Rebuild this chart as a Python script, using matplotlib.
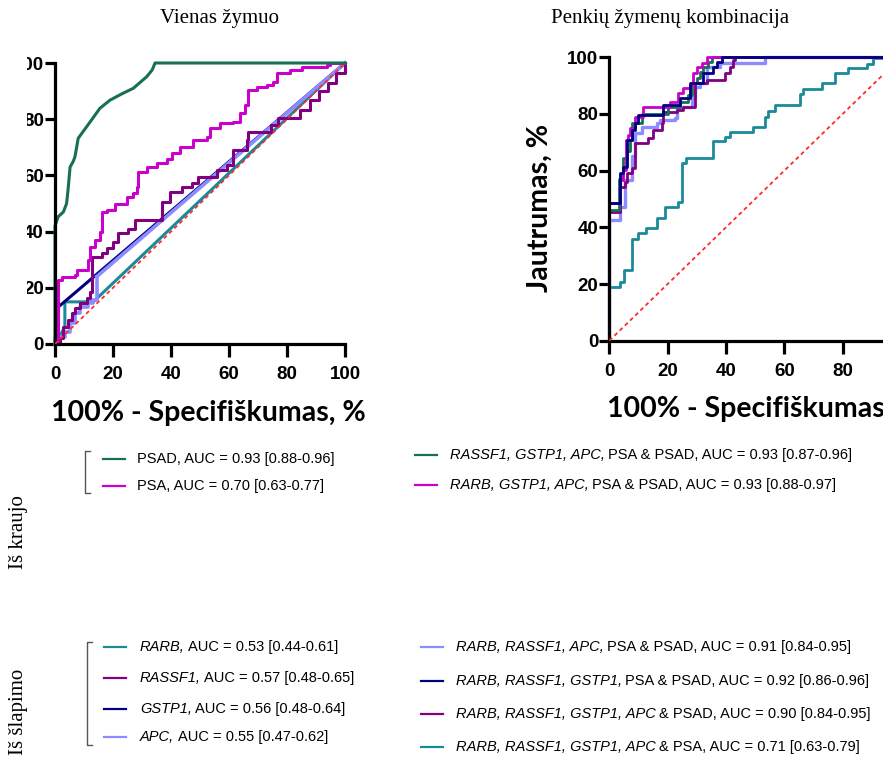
import matplotlib.pyplot as plt
import numpy as np
from matplotlib.lines import Line2D
from matplotlib.patches import Rectangle

W, H = 883, 767

# ---- data ----
ticks = [0, 20, 40, 60, 80, 100]
chance = [0, 100]

# single marker curves (x = 100% - specificity, y = sensitivity)
psad_x = [0, 0, 1.1, 2.9, 4.0, 4.6, 5.2, 6.3, 6.9, 8.0, 10.9, 15.5, 19.0, 23.0, 27.0, 31.6, 33.5, 34.5, 100]
psad_y = [0, 42, 45.3, 47, 50, 56, 63, 65, 66.7, 73.2, 77.3, 83.9, 86.8, 89, 91, 95.1, 97.5, 100, 100]

psa_x = [0, 1.1, 2.3, 6.9, 7.5, 11.5, 12.1, 13.8, 15.5, 16.1, 17.8, 20.7, 24.7, 27.0, 28.2, 28.7, 31.6, 35.0,
         38.5, 40.2, 43.1, 47.7, 52.3, 53.4, 56.9, 61.5, 63.8, 65.5, 66.7, 69.5, 73.0, 75.3, 76.4, 81.0, 85.0,
         93.7, 94.8, 100]
psa_y = [0, 22.8, 24, 24.6, 26.3, 29.9, 34.6, 37, 40, 47, 47.7, 50, 52.4, 53.6, 56, 61.3, 63.1, 64.3,
         66, 67.8, 70.2, 72.6, 73.8, 76.8, 78.5, 79.1, 82.1, 85, 90.4, 91.6, 92.2, 93.4, 96.3, 97.5, 98.7,
         99.3, 99.9, 100]

rassf1_x = [0, 1.7, 2.9, 4.6, 5.7, 6.9, 8.6, 10.9, 12.1, 12.6, 16.1, 17.8, 20.1, 21.8, 25.3, 27.6, 36.8, 39.7,
            43.7, 47.1, 49.4, 55.7, 59.2, 61.5, 66.1, 66.7, 74.5, 77.0, 84.5, 88.0, 91.0, 94.0, 97.0, 100]
rassf1_y = [0, 2, 6.2, 8.5, 10.9, 12.7, 14.5, 16.2, 18.6, 31, 32.3, 34, 36.4, 39.4, 41.1, 44.1, 50.6, 54.2,
            56, 57.2, 59.5, 61.9, 63.7, 69, 72.6, 75.6, 78, 80.3, 83.3, 87, 90, 93, 96.5, 100]

gstp1_x = [0, 0.6, 100]
gstp1_y = [0, 12.7, 100]

apc_x = [0, 1.1, 3.4, 5.2, 6.9, 8.6, 11.5, 13.2, 14.4, 14.4]
apc_y = [0, 2.6, 4.4, 7.4, 10.9, 13.3, 14.5, 15.7, 18, 24]
apc_tail_x = [14.4, 100]
apc_tail_y = [24, 100]

rarb_x = [0, 3.4, 3.4, 13.2, 100]
rarb_y = [0, 6, 15, 15, 100]

# five marker combinations
c1_x = [0, 0, 3.3, 4.2, 4.8, 6.0, 7.1, 7.7, 11.1, 20.2, 24.2, 27.1, 28.2, 30.0, 31.1, 32.2, 33.9, 35.1, 100]
c1_y = [0, 46, 57, 59, 64.3, 67, 70.8, 76.7, 80, 82.6, 84.3, 86.7, 90.8, 92.6, 94.9, 96.7, 98.5, 100, 100]

c2_x = [0, 0, 3.7, 4.8, 5.7, 6.5, 7.1, 8.8, 11.4, 20.8, 23.7, 25.4, 27.7, 28.8, 29.9, 31.7, 33.4, 100]
c2_y = [0, 48.5, 56.7, 60.2, 70.8, 72.6, 74.9, 79, 82.6, 84.3, 87.3, 89, 90.2, 94.4, 96.7, 98.1, 100, 100]

c3_x = [0, 0, 3.7, 5.4, 7.7, 8.8, 11.1, 16.2, 17.4, 22.5, 23.1, 28.2, 29.4, 31.1, 33.4, 37.9, 53.4, 100]
c3_y = [0, 42.6, 47.3, 56.7, 65, 73.2, 75.5, 76.7, 77.9, 78.5, 82.6, 86.1, 89.6, 90.8, 96.7, 98.1, 100, 100]

c4_x = [0, 0, 3.7, 4.8, 5.9, 7.7, 8.8, 9.9, 18.5, 24.2, 27.7, 32.2, 35.7, 36.8, 38.5, 100]
c4_y = [0, 48.5, 59, 61.4, 70.8, 74.4, 76.7, 79.6, 83.2, 85.5, 90.8, 94.4, 96.7, 98.5, 100, 100]

c5_x = [0, 0, 3.7, 5.4, 5.9, 7.7, 8.8, 13.4, 15.1, 17.9, 18.5, 23.1, 25.4, 29.4, 33.4, 39.7, 41.4, 42.5, 43.1, 100]
c5_y = [0, 45.5, 54.4, 56.1, 59.1, 60.8, 69.6, 71.4, 74.4, 76.7, 80.8, 81.4, 82.6, 90.8, 92, 94.4, 96.7, 99, 100, 100]

c6_x = [0, 0, 3.7, 5.0, 7.7, 9.9, 12.6, 16.2, 19.1, 23.7, 25.0, 26.2, 35.4, 39.7, 41.4, 49.4, 53.4, 54.5, 56.8,
        65.4, 66.5, 72.8, 77.4, 81.9, 88.2, 90.5, 95.0, 100]
c6_y = [0, 19.1, 20.8, 24.9, 35.9, 37.9, 39.6, 43.2, 47.3, 49.1, 62.6, 64.4, 70.5, 72, 73.8, 75.5, 79, 81.2, 83.2,
        86.9, 88.7, 90.8, 94.4, 96.4, 97.6, 99.6, 100, 100]

# legend texts: (italic part, plain part)
blood_single = [("", "PSAD, AUC = 0.93 [0.88-0.96]"), ("", "PSA, AUC = 0.70 [0.63-0.77]")]
urine_single = [("RARB,", "AUC = 0.53 [0.44-0.61]"), ("RASSF1,", "AUC = 0.57 [0.48-0.65]"),
                ("GSTP1,", "AUC = 0.56 [0.48-0.64]"), ("APC,", "AUC = 0.55 [0.47-0.62]")]
combo_top = [("RASSF1, GSTP1, APC,", "PSA & PSAD, AUC = 0.93 [0.87-0.96]"),
             ("RARB, GSTP1, APC,", "PSA & PSAD, AUC = 0.93 [0.88-0.97]")]
combo_bottom = [("RARB, RASSF1, APC,", "PSA & PSAD, AUC = 0.91 [0.84-0.95]"),
                ("RARB, RASSF1, GSTP1,", "PSA & PSAD, AUC = 0.92 [0.86-0.96]"),
                ("RARB, RASSF1, GSTP1, APC", "& PSAD, AUC = 0.90 [0.84-0.95]"),
                ("RARB, RASSF1, GSTP1, APC", "& PSA, AUC = 0.71 [0.63-0.79]")]

GREEN = "#17704f"
MAGENTA = "#cc00cc"
PURPLE = "#800080"
NAVY = "#000080"
LBLUE = "#8c8cff"
TEAL = "#1a8a9a"
RED = "#ff2a2a"

fig = plt.figure(figsize=(W / 100, H / 100), dpi=100)


def fx(x):
    return x / W


def fy(y):
    return 1 - y / H


def style(ax):
    ax.set_xlim(0, 100)
    ax.set_ylim(0, 100)
    ax.set_xticks(ticks)
    ax.set_yticks(ticks)
    for s in ["top", "right"]:
        ax.spines[s].set_visible(False)
    for s in ["left", "bottom"]:
        ax.spines[s].set_linewidth(2.3)
    ax.tick_params(axis="x", length=9, width=2.3, pad=7, labelsize=13.5)
    ax.tick_params(axis="y", length=7.5, width=2.3, pad=0.5, labelsize=13.5)
    for lab in ax.get_xticklabels() + ax.get_yticklabels():
        lab.set_fontfamily("Liberation Sans")
        lab.set_fontweight("bold")
    ax.plot(chance, chance, color=RED, lw=1.3, ls=(0, (2.2, 1.8)), zorder=5)


ax1 = fig.add_axes([fx(55), fy(344), 290 / W, 281 / H])
style(ax1)
ax1.plot(rarb_x, rarb_y, color=TEAL, lw=2.2, clip_on=False)
ax1.plot(gstp1_x, gstp1_y, color=NAVY, lw=2.2, clip_on=False)
ax1.plot(apc_x, apc_y, color=LBLUE, lw=2.6, drawstyle="steps-post", clip_on=False)
ax1.plot(apc_tail_x, apc_tail_y, color=LBLUE, lw=2.6, clip_on=False)
ax1.plot(rassf1_x, rassf1_y, color=PURPLE, lw=2.2, drawstyle="steps-post", clip_on=False)
ax1.plot(psa_x, psa_y, color=MAGENTA, lw=2.2, drawstyle="steps-post", clip_on=False)
ax1.plot(psad_x, psad_y, color=GREEN, lw=2.2, clip_on=False)

ax2 = fig.add_axes([fx(609.3), fy(340.7), 291.7 / W, 283.4 / H])
style(ax2)
ax2.plot(c6_x, c6_y, color=TEAL, lw=2.0, drawstyle="steps-post", clip_on=False)
ax2.plot(c3_x, c3_y, color=LBLUE, lw=2.4, drawstyle="steps-post", clip_on=False)
ax2.plot(c5_x, c5_y, color=PURPLE, lw=2.0, drawstyle="steps-post", clip_on=False)
ax2.plot(c1_x, c1_y, color=GREEN, lw=2.0, drawstyle="steps-post", clip_on=False)
ax2.plot(c2_x, c2_y, color=MAGENTA, lw=2.0, drawstyle="steps-post", clip_on=False)
ax2.plot(c4_x, c4_y, color=NAVY, lw=2.0, drawstyle="steps-post", clip_on=False)

# the left panel is cropped at its left edge in the source
fig.patches.append(Rectangle((0, fy(380)), fx(27), 1 - fy(380), transform=fig.transFigure,
                             facecolor="white", edgecolor="none", zorder=50))

lab_kw = dict(fontfamily="Lato", fontweight="bold", fontsize=20.5, ha="center")
fig.text(fx(208.5), fy(421.5), "100% - Specifiškumas, %", va="baseline", **lab_kw)
fig.text(fx(764.5), fy(416.5), "100% - Specifiškumas, %", va="baseline", **lab_kw)
fig.text(fx(540), fy(208), "Jautrumas, %", rotation=90, va="center", **lab_kw)

serif = dict(fontfamily="Liberation Serif", fontsize=15, ha="center", va="center")
fig.text(fx(219), fy(18), "Vienas žymuo", **serif)
fig.text(fx(670), fy(18), "Penkių žymenų kombinacija", **serif)
fig.text(fx(18), fy(532), "Iš kraujo", rotation=90, **serif)
fig.text(fx(18), fy(712), "Iš šlapimo", rotation=90, **serif)

renderer = fig.canvas.get_renderer()
LEG_SIZE = 10.5
space_w = 3.3


def legend_rows(x_line, x_text, rows_y, entries, colors):
    for yy, (it, plain), col in zip(rows_y, entries, colors):
        fig.lines.append(Line2D([fx(x_line), fx(x_line + 22)], [fy(yy), fy(yy)],
                                transform=fig.transFigure, color=col, lw=1.6))
        xpos = x_text
        kw = dict(fontfamily="Liberation Sans", fontsize=LEG_SIZE, va="center", ha="left")
        if it:
            t = fig.text(fx(xpos), fy(yy), it, style="italic", **kw)
            xpos = t.get_window_extent(renderer).x1 + space_w
        fig.text(fx(xpos), fy(yy), plain, **kw)


def bracket(x, y0, y1):
    fig.lines.append(Line2D([fx(x + 5), fx(x), fx(x), fx(x + 5)], [fy(y0), fy(y0), fy(y1), fy(y1)],
                            transform=fig.transFigure, color="#555555", lw=1.0))


bracket(85, 451, 493)
bracket(87, 642, 745)
legend_rows(103, 137, [459, 486], blood_single, [GREEN, MAGENTA])
legend_rows(104, 140, [647, 678, 709, 737], urine_single, [TEAL, PURPLE, NAVY, LBLUE])
legend_rows(415, 450, [455, 485], combo_top, [GREEN, MAGENTA])
legend_rows(421, 456, [647, 681, 714, 747], combo_bottom, [LBLUE, NAVY, PURPLE, TEAL])

fig.savefig("out.png", dpi=100)
